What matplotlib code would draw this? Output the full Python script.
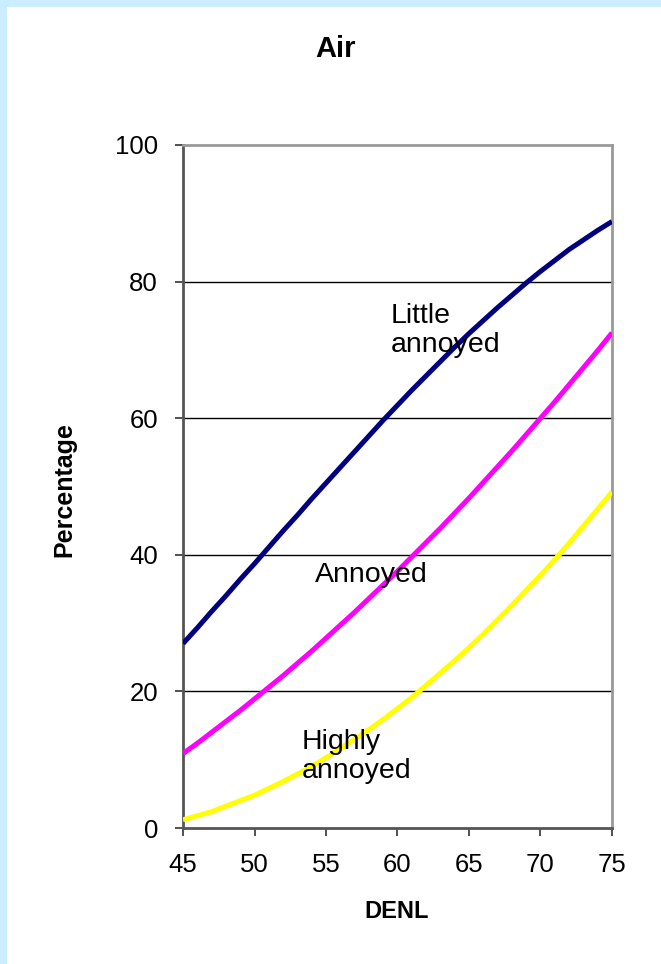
import matplotlib
matplotlib.use("Agg")
import matplotlib.pyplot as plt
from matplotlib.patches import Rectangle

plt.rcParams['font.family'] = ['Liberation Sans', 'DejaVu Sans']

# Noise level (DENL, dB) and percentage of people annoyed by aircraft noise
denl = list(range(45, 76))
little_annoyed = [27.0, 29.3, 31.7, 34.0, 36.4, 38.7, 41.1, 43.5, 45.8, 48.2, 50.5,
                  52.8, 55.1, 57.4, 59.7, 61.9, 64.1, 66.2, 68.3, 70.4, 72.4, 74.3,
                  76.2, 78.0, 79.8, 81.5, 83.1, 84.7, 86.1, 87.5, 88.8]
annoyed = [10.9, 12.4, 14.0, 15.6, 17.2, 18.9, 20.6, 22.3, 24.1, 25.9, 27.8,
           29.7, 31.6, 33.6, 35.6, 37.6, 39.7, 41.8, 43.9, 46.1, 48.3, 50.6,
           52.9, 55.2, 57.6, 60.0, 62.4, 64.9, 67.4, 69.9, 72.5]
highly_annoyed = [1.2, 1.8, 2.4, 3.2, 4.0, 4.8, 5.8, 6.8, 7.9, 9.0, 10.3,
                  11.6, 13.0, 14.4, 15.9, 17.5, 19.1, 20.9, 22.7, 24.5, 26.4, 28.4,
                  30.5, 32.6, 34.8, 37.0, 39.3, 41.7, 44.2, 46.7, 49.2]

x_ticks = [45, 50, 55, 60, 65, 70, 75]
y_ticks = [0, 20, 40, 60, 80, 100]

W, H = 661, 964
fig = plt.figure(figsize=(W / 100, H / 100), dpi=100)
fig.patch.set_facecolor('white')

# light blue frame strips along the top and left edges
border = '#CCECFF'
fig.patches.append(Rectangle((0, 1 - 7 / H), 1, 7 / H, transform=fig.transFigure,
                             facecolor=border, edgecolor='none', zorder=0))
fig.patches.append(Rectangle((0, 0), 7 / W, 1, transform=fig.transFigure,
                             facecolor=border, edgecolor='none', zorder=0))

ax = fig.add_axes([183 / W, 1 - 828 / H, (612 - 183) / W, (828 - 145) / H])
ax.set_xlim(45, 75)
ax.set_ylim(0, 100)

for v in y_ticks[1:-1]:
    ax.axhline(v, color='black', lw=1.0, zorder=1)

line_kw = dict(lw=3.6, solid_joinstyle='round', solid_capstyle='butt', zorder=3)
ax.plot(denl, little_annoyed, color='#000080', **line_kw)
ax.plot(denl, annoyed, color='#FF00FF', **line_kw)
ax.plot(denl, highly_annoyed, color='#FFFF00', **line_kw)

ax.set_xticks(x_ticks)
ax.set_yticks(y_ticks)
ax.tick_params(axis='both', direction='out', length=6, width=1.2, color='#333333',
               labelsize=18.5, labelcolor='black')
ax.tick_params(axis='x', pad=12)
ax.tick_params(axis='y', pad=12)

for side in ['left', 'bottom']:
    ax.spines[side].set_color('#555555')
    ax.spines[side].set_linewidth(2)
for side in ['top', 'right']:
    ax.spines[side].set_color('#999999')
    ax.spines[side].set_linewidth(2)

ann_size = 20.5
ax.text(59.5, 72.8, 'Little\nannoyed', fontsize=ann_size, ha='left', va='center',
        linespacing=1.15, zorder=4)
ax.text(54.2, 37.0, 'Annoyed', fontsize=ann_size, ha='left', va='center', zorder=4)
ax.text(53.3, 10.4, 'Highly\nannoyed', fontsize=ann_size, ha='left', va='center',
        linespacing=1.15, zorder=4)

fig.text(336 / W, 1 - 49 / H, 'Air', fontsize=21, fontweight='bold', ha='center', va='center')
fig.text(397 / W, 1 - 911 / H, 'DENL', fontsize=17, fontweight='bold', ha='center', va='center')
fig.text(64 / W, 1 - 490 / H, 'Percentage', fontsize=18, fontweight='bold', rotation=90,
         ha='center', va='center')

fig.savefig('out.png', dpi=100)
